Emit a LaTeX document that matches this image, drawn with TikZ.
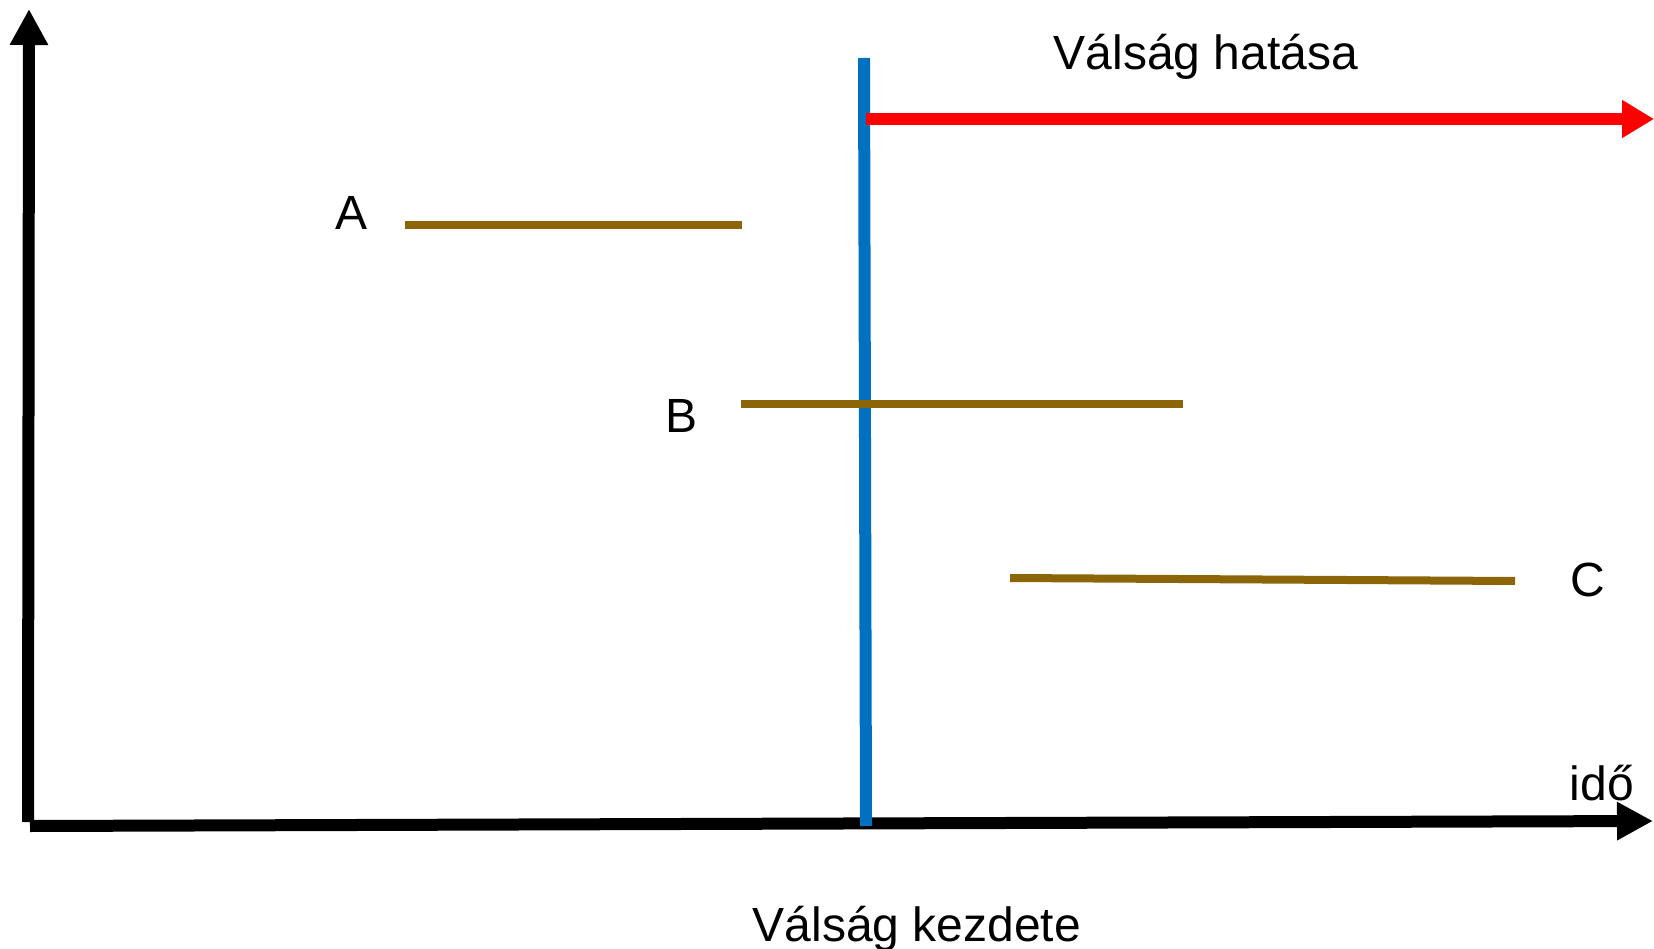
\documentclass[tikz,border=0pt]{standalone}
\usepackage{fontspec}
\setmainfont{Liberation Sans}
\usetikzlibrary{arrows.meta}
\definecolor{axisblue}{RGB}{0,112,192}
\definecolor{effectred}{RGB}{255,0,0}
\definecolor{barbrown}{RGB}{139,101,8}
\tikzset{
  axisline/.style={line width=12pt,black,-{Triangle[length=36pt,width=36pt]}},
  redline/.style={line width=12pt,effectred,-{Triangle[length=32pt,width=36pt]}},
  blueline/.style={line width=12pt,axisblue},
  barline/.style={line width=8pt,barbrown},
  lbl/.style={font=\fontsize{48pt}{58pt}\selectfont,anchor=base,inner sep=0pt,outer sep=0pt}
}
\begin{document}
\begin{tikzpicture}[x=1pt,y=-1pt]
\useasboundingbox (0,0) rectangle (1654,949);
% axes
\coordinate (yb) at (28,822);
\coordinate (yt) at (29,9);
\coordinate (xl) at (30,826);
\coordinate (xr) at (1653,821);
\draw[axisline] (yb) -- (yt);
\draw[axisline] (xl) -- (xr);
% crisis start line
\coordinate (bt) at (864,58);
\coordinate (bb) at (866,826);
\draw[blueline] (bt) -- (bb);
% crisis effect arrow
\coordinate (rs) at (866,119);
\coordinate (re) at (1654,119);
\draw[redline] (rs) -- (re);
% bars
\coordinate (a1) at (405,225);
\coordinate (a2) at (742,225);
\coordinate (b1) at (741,404);
\coordinate (b2) at (1183,404);
\coordinate (c1) at (1010,578);
\coordinate (c2) at (1515,581);
\draw[barline] (a1) -- (a2);
\draw[barline] (b1) -- (b2);
\draw[barline] (c1) -- (c2);
% labels
\node[lbl] (la) at (352,230) {A};
\node[lbl] (lb) at (681,432) {B};
\node[lbl] (lc) at (1588,596) {C};
\node[lbl] (lido) at (1602,800) {idő};
\node[lbl] (lhat) at (1206,70) {Válság hatása};
\node[lbl] (lkezd) at (917,941) {Válság kezdete};
\end{tikzpicture}
\end{document}
